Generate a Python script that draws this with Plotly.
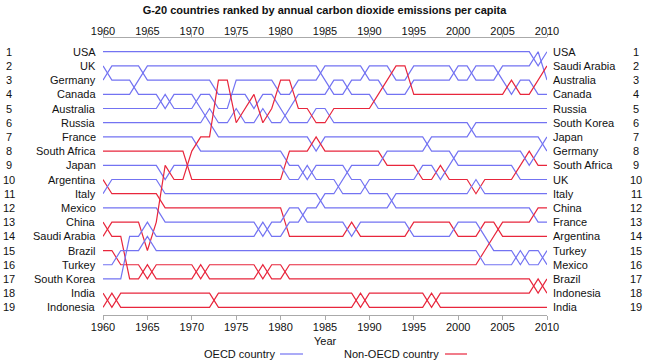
import plotly.graph_objects as go

years = list(range(1960, 2011))

# Rank (1 = highest emissions per capita) of each country, 1960..2010
usa = [1,1,1,1,1,1,1,1,1,1, 1,1,1,1,1,1,1,1,1,1, 1,1,1,1,1,1,1,1,1,1, 1,1,1,1,1,1,1,1,1,1, 1,1,1,1,1,1,1,1,1,2, 1]
uk = [2,3,3,3,4,4,4,5,4,4, 4,5,6,7,7,7,7,7,7,7, 7,7,7,7,8,7,7,7,7,7, 7,7,7,7,7,7,7,8,8,8, 9,9,9,9,9,9,9,10,10,10, 10]
germany = [3,2,2,2,2,3,3,3,3,3, 3,3,3,4,4,4,4,5,4,4, 5,6,6,6,5,5,6,6,6,6, 6,6,6,6,6,6,6,6,6,6, 6,6,7,7,7,7,7,7,7,7, 8]
canada = [4,4,4,4,3,2,2,2,2,2, 2,2,2,2,2,2,2,2,2,2, 2,2,2,2,2,3,4,4,3,3, 2,2,2,3,3,2,2,2,2,2, 3,3,2,2,2,3,4,3,3,4, 4]
australia = [5,5,5,5,5,5,5,4,5,5, 5,4,4,5,5,3,3,3,3,3, 4,4,3,3,3,2,2,2,2,2, 3,3,4,4,4,3,3,3,3,3, 2,2,3,3,3,2,2,2,2,1, 3]
russia = [6,6,6,6,6,6,6,6,6,6, 6,6,5,6,6,5,6,6,5,6, 6,5,4,4,4,4,3,3,4,4, 4,5,5,5,5,5,5,5,5,5, 5,5,5,5,5,5,5,5,5,5, 5]
france = [7,7,7,7,7,7,7,7,7,7, 7,8,8,8,8,8,8,8,8,8, 8,9,9,10,9,9,9,9,10,10, 11,11,11,12,12,12,12,12,12,12, 12,12,12,12,12,12,12,12,12,13, 13]
south_africa = [8,8,8,8,8,8,8,8,8,8, 10,10,10,10,10,10,10,10,10,10, 10,8,8,8,7,8,8,8,8,8, 8,8,9,9,9,9,10,10,9,10, 10,10,11,10,10,10,10,9,8,9, 9]
japan = [9,9,9,9,9,9,9,10,9,9, 9,9,9,9,9,9,9,9,9,9, 9,10,10,9,10,10,10,11,11,11, 10,10,10,10,10,10,9,9,10,9, 8,8,8,8,8,8,8,8,9,8, 7]
argentina = [10,11,11,11,11,11,11,12,12,12, 12,12,12,12,12,12,12,12,12,12, 12,14,14,14,14,14,14,14,13,14, 14,14,14,14,14,13,13,13,13,13, 14,14,14,13,13,14,14,14,14,14, 14]
italy = [11,10,10,10,10,10,10,11,11,11, 11,11,11,11,11,11,11,11,11,11, 11,11,11,11,11,12,12,12,12,12, 12,12,12,11,11,11,11,11,11,11, 11,11,10,11,11,11,11,11,11,11, 11]
mexico = [12,12,12,12,12,12,12,13,13,13, 13,13,13,13,13,13,13,13,14,13, 13,12,12,13,13,13,13,13,14,13, 13,13,13,13,13,14,14,14,14,14, 13,13,13,14,15,15,15,16,15,15, 16]
china = [13,14,14,17,17,16,17,17,17,17, 17,16,17,17,17,17,17,17,16,17, 17,16,16,16,16,16,16,16,16,16, 16,16,16,16,16,16,16,16,16,16, 16,16,16,15,14,13,13,13,13,12, 12]
saudi_arabia = [14,13,13,13,13,15,13,9,10,10, 8,7,7,3,3,6,5,4,6,5, 3,3,5,5,6,6,5,5,5,5, 5,4,3,2,2,4,4,4,4,4, 4,4,4,4,4,4,3,4,4,3, 2]
brazil = [15,15,16,16,16,17,16,16,16,16, 16,17,16,16,16,16,16,16,17,16, 16,17,17,17,17,17,17,17,17,17, 17,17,17,17,17,17,17,17,17,17, 17,17,17,17,17,17,17,17,17,18, 17]
turkey = [16,16,15,15,15,14,15,15,15,15, 15,15,15,15,15,15,15,15,15,15, 15,15,15,15,15,15,15,15,15,15, 15,15,15,15,15,15,15,15,15,15, 15,15,15,16,16,16,16,15,16,16, 15]
south_korea = [17,17,17,14,14,13,14,14,14,14, 14,14,14,14,14,14,14,14,13,14, 14,13,13,12,12,11,11,10,9,9, 9,9,8,8,8,8,8,7,7,7, 7,7,6,6,6,6,6,6,6,6, 6]
india = [18,19,18,18,18,18,18,18,18,18, 18,18,18,19,19,19,19,19,19,19, 19,19,19,19,19,19,19,19,19,18, 19,19,19,19,19,19,19,18,19,19, 19,19,19,19,19,19,19,19,19,19, 19]
indonesia = [19,18,19,19,19,19,19,19,19,19, 19,19,19,18,18,18,18,18,18,18, 18,18,18,18,18,18,18,18,18,19, 18,18,18,18,18,18,18,19,18,18, 18,18,18,18,18,18,18,18,18,17, 18]

countries = ["USA", "UK", "Germany", "Canada", "Australia", "Russia", "France",
             "South Africa", "Japan", "Argentina", "Italy", "Mexico", "China",
             "Saudi Arabia", "Brazil", "Turkey", "South Korea", "India", "Indonesia"]
series = [usa, uk, germany, canada, australia, russia, france, south_africa, japan,
          argentina, italy, mexico, china, saudi_arabia, brazil, turkey, south_korea,
          india, indonesia]
oecd = ["USA", "UK", "Germany", "Canada", "Australia", "Russia", "France", "Japan",
        "Italy", "Mexico", "Turkey", "South Korea"]

for i in range(len(years)):
    assert sorted(s[i] for s in series) == list(range(1, 20)), years[i]

BLUE = "#7373f2"
RED = "#e8263c"
L, R, T, B = 103, 102, 38, 48
W, H = 649, 363
pw, ph = W - L - R, H - T - B

fig = go.Figure()
for name, vals in zip(countries, series):
    col = BLUE if name in oecd else RED
    fig.add_trace(go.Scatter(x=years, y=vals, mode="lines",
                             line=dict(color=col, width=1.2),
                             showlegend=False, hoverinfo="skip"))
fig.add_trace(go.Scatter(x=[1960, 2010], y=[None, None], xaxis="x2",
                         mode="lines", showlegend=False, hoverinfo="skip"))


def px_x(p):
    return (p - L) / pw


def px_y(p):
    return (H - B - p) / ph


ann = []
font = dict(family="Liberation Sans, Arial, Helvetica", size=11, color="#111")
for r in range(1, 20):
    left = [n for n, v in zip(countries, series) if v[0] == r][0]
    right = [n for n, v in zip(countries, series) if v[-1] == r][0]
    ann.append(dict(x=1960, y=r, xref="x", yref="y", text=left, showarrow=False,
                    xanchor="right", xshift=-5, font=font))
    ann.append(dict(x=2010, y=r, xref="x", yref="y", text=right, showarrow=False,
                    xanchor="left", xshift=4, font=font))
    ann.append(dict(x=px_x(9), y=r, xref="paper", yref="y", text=str(r), showarrow=False,
                    xanchor="center", font=font))
    ann.append(dict(x=px_x(636), y=r, xref="paper", yref="y", text=str(r), showarrow=False,
                    xanchor="center", font=font))

ann.append(dict(x=0.5, y=px_y(341), xref="paper", yref="paper", text="Year",
                showarrow=False, xanchor="center", yanchor="middle", font=font))
ann.append(dict(x=px_x(277), y=px_y(354), xref="paper", yref="paper", text="OECD country",
                showarrow=False, xanchor="right", yanchor="middle", font=font))
ann.append(dict(x=px_x(441), y=px_y(354), xref="paper", yref="paper", text="Non-OECD country",
                showarrow=False, xanchor="right", yanchor="middle", font=font))

shapes = [
    dict(type="line", xref="paper", yref="paper", x0=px_x(280), x1=px_x(303),
         y0=px_y(354), y1=px_y(354), line=dict(color=BLUE, width=1.2)),
    dict(type="line", xref="paper", yref="paper", x0=px_x(445), x1=px_x(467),
         y0=px_y(354), y1=px_y(354), line=dict(color=RED, width=1.2)),
]

axis_common = dict(range=[1960, 2010], dtick=5, tick0=1960, showline=True,
                   linecolor="#aaa", linewidth=1, ticks="outside", ticklen=4,
                   tickcolor="#aaa", showgrid=False, zeroline=False,
                   tickfont=dict(family="Liberation Sans, Arial", size=11, color="#111"))

fig.update_layout(
    width=W, height=H, margin=dict(l=L, r=R, t=T, b=B, pad=0),
    paper_bgcolor="white", plot_bgcolor="white",
    title=dict(text="<b>G-20 countries ranked by annual carbon dioxide emissions per capita</b>",
               x=0.5, xanchor="center", y=1 - 10 / H, yanchor="middle", yref="container",
               font=dict(family="Liberation Sans Narrow, Liberation Sans, Arial", size=11,
                         color="#111")),
    xaxis=dict(axis_common, side="bottom", ticklabelstandoff=-2),
    xaxis2=dict(axis_common, side="top", overlaying="x", ticklabelstandoff=-6),
    yaxis=dict(range=[19.54, 0.035], visible=False),
    annotations=ann, shapes=shapes,
)
fig.write_html("out.html", config={"displayModeBar": False},
               post_script="document.body.style.margin='0';document.body.style.padding='0';")
